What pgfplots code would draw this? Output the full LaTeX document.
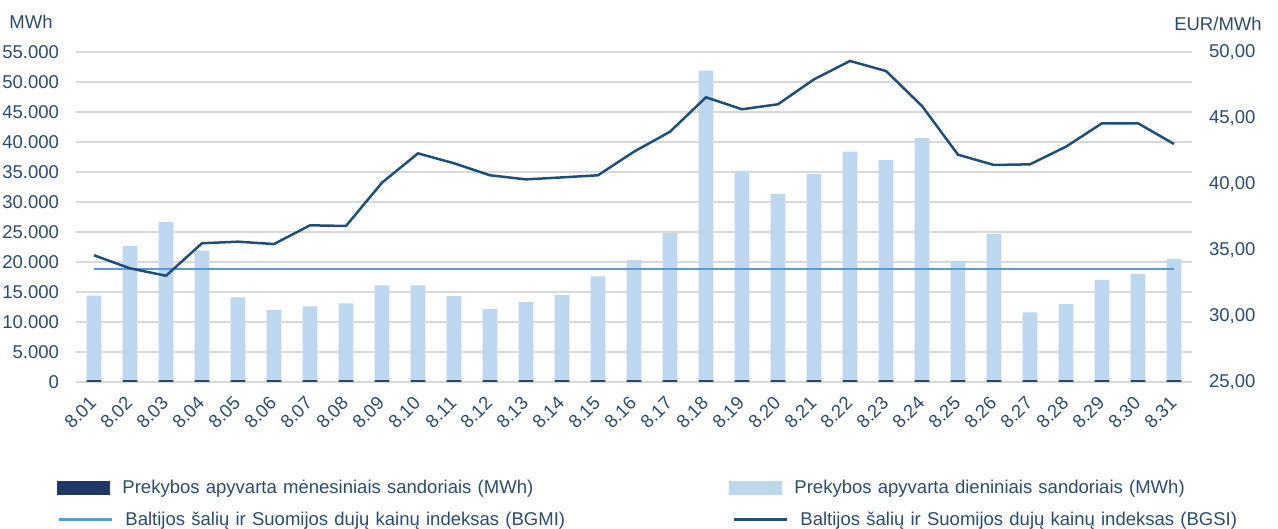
\documentclass[border=0pt]{standalone}
\usepackage{pgfplots}
\pgfplotsset{compat=1.18}
\usepackage{fontspec}
\setmainfont{Liberation Sans}
\definecolor{txt}{HTML}{2A4B70}
\definecolor{gridc}{HTML}{D9D9D9}
\definecolor{daily}{HTML}{BDD7EE}
\definecolor{monthly}{HTML}{1F3864}
\definecolor{bgmi}{HTML}{5B9BD5}
\definecolor{bgsi}{HTML}{1F4E79}
\begin{document}
\begin{tikzpicture}
\pgfplotsset{
  base/.style={
    width=558bp, height=165bp, scale only axis,
    xmin=-0.5, xmax=30.5,
    axis line style={draw=none},
    major tick length=0pt,
    tick style={draw=none},
    tick label style={font=\fontsize{9.3}{11}\selectfont, text=txt},
    /pgf/number format/assume math mode=true,
  },
}
\begin{axis}[base, name=ax,
  ymin=0, ymax=55000, ytick={0,5000,...,55000},
  scaled y ticks=false,
  yticklabel style={/pgf/number format/fixed, /pgf/number format/1000 sep={.}, xshift=-5bp},
  ymajorgrids, xmajorgrids=false, grid style={draw=gridc, line width=0.8bp},
  xtick={0,...,30},
  xticklabels={8.01,8.02,8.03,8.04,8.05,8.06,8.07,8.08,8.09,8.10,8.11,8.12,8.13,8.14,8.15,8.16,8.17,8.18,8.19,8.20,8.21,8.22,8.23,8.24,8.25,8.26,8.27,8.28,8.29,8.30,8.31},
  xticklabel style={xshift=2bp, yshift=-6.5bp, rotate=45, anchor=east},
  reverse legend,
  legend columns=2,
  legend cell align=left,
  legend style={at={(-0.017,-0.321)}, anchor=west, draw=none, fill=none, inner sep=0pt,
    font=\fontsize{9.3}{11}\selectfont, text=txt,
    nodes={inner xsep=6bp, inner ysep=1bp, text width=297.5bp, align=left}},
]
\addplot[ybar, bar width=7.35bp, bar shift=0pt, fill=daily, draw=none,
  legend image code/.code={\fill[daily] (0bp,-3.5bp) rectangle (26.5bp,3.5bp);}]
  coordinates {
  (0,14400) (1,22700) (2,26700) (3,21900) (4,14100) (5,12000) (6,12600) (7,13100)
  (8,16100) (9,16100) (10,14300) (11,12200) (12,13300) (13,14500) (14,17600) (15,20300)
  (16,24800) (17,51900) (18,35200) (19,31300) (20,34700) (21,38400) (22,37000) (23,40700)
  (24,20200) (25,24700) (26,11600) (27,13000) (28,17000) (29,18000) (30,20500)};
\addlegendentry{Prekybos apyvarta dieniniais sandoriais (MWh)}
\addplot[ybar, bar width=7.35bp, bar shift=0pt, fill=monthly!80!gray, draw=none,
  legend image code/.code={\fill[monthly] (0bp,-3.5bp) rectangle (26.5bp,3.5bp);}]
  coordinates {
  (0,300) (1,300) (2,300) (3,300) (4,300) (5,300) (6,300) (7,300)
  (8,300) (9,300) (10,300) (11,300) (12,300) (13,300) (14,300) (15,300)
  (16,300) (17,300) (18,300) (19,300) (20,300) (21,300) (22,300) (23,300)
  (24,300) (25,300) (26,300) (27,300) (28,300) (29,300) (30,300)};
\addlegendentry{Prekybos apyvarta mėnesiniais sandoriais (MWh)}
\end{axis}
\begin{axis}[base,
  ymin=25, ymax=50, ytick={25,30,...,50},
  yticklabel pos=right,
  yticklabel style={/pgf/number format/fixed, /pgf/number format/fixed zerofill, /pgf/number format/precision=2, /pgf/number format/use comma, /pgf/number format/1000 sep={}, xshift=5bp},
  xtick=\empty,
  legend columns=2,
  legend cell align=left,
  legend style={at={(-0.017,-0.418)}, anchor=west, draw=none, fill=none, inner sep=0pt,
    font=\fontsize{9.3}{11}\selectfont, text=txt,
    nodes={inner xsep=6bp, inner ysep=1bp, text width=297.5bp, align=left}},
]
\addplot[bgmi, line width=1bp, no markers,
  legend image code/.code={\draw[bgmi, line width=1.5bp] (0bp,0bp) -- (26.5bp,0bp);}]
  coordinates {
  (0,33.54) (1,33.54) (2,33.54) (3,33.54) (4,33.54) (5,33.54) (6,33.54) (7,33.54)
  (8,33.54) (9,33.54) (10,33.54) (11,33.54) (12,33.54) (13,33.54) (14,33.54) (15,33.54)
  (16,33.54) (17,33.54) (18,33.54) (19,33.54) (20,33.54) (21,33.54) (22,33.54) (23,33.54)
  (24,33.54) (25,33.54) (26,33.54) (27,33.54) (28,33.54) (29,33.54) (30,33.54)};
\addlegendentry{Baltijos šalių ir Suomijos dujų kainų indeksas (BGMI)}
\addplot[bgsi, line width=1.25bp, no markers,
  legend image code/.code={\draw[bgsi, line width=1.5bp] (0bp,0bp) -- (26.5bp,0bp);}]
  coordinates {
  (0,34.60) (1,33.61) (2,33.05) (3,35.51) (4,35.63) (5,35.45) (6,36.87) (7,36.82)
  (8,40.10) (9,42.32) (10,41.57) (11,40.66) (12,40.35) (13,40.50) (14,40.66) (15,42.45)
  (16,43.96) (17,46.57) (18,45.66) (19,46.04) (20,47.93) (21,49.32) (22,48.56) (23,45.91)
  (24,42.22) (25,41.44) (26,41.49) (27,42.83) (28,44.60) (29,44.60) (30,43.03)};
\addlegendentry{Baltijos šalių ir Suomijos dujų kainų indeksas (BGSI)}
\end{axis}
\node[text=txt, font=\fontsize{9.3}{11}\selectfont] at ([xshift=-22.5bp,yshift=15bp]ax.north west) {MWh};
\node[text=txt, font=\fontsize{9.3}{11}\selectfont] at ([xshift=13bp,yshift=14bp]ax.north east) {EUR/MWh};
\pgfresetboundingbox
\path[use as bounding box] ([xshift=-38bp,yshift=-73.5bp]ax.south west) rectangle ([xshift=43bp,yshift=26bp]ax.north east);
\end{tikzpicture}
\end{document}
